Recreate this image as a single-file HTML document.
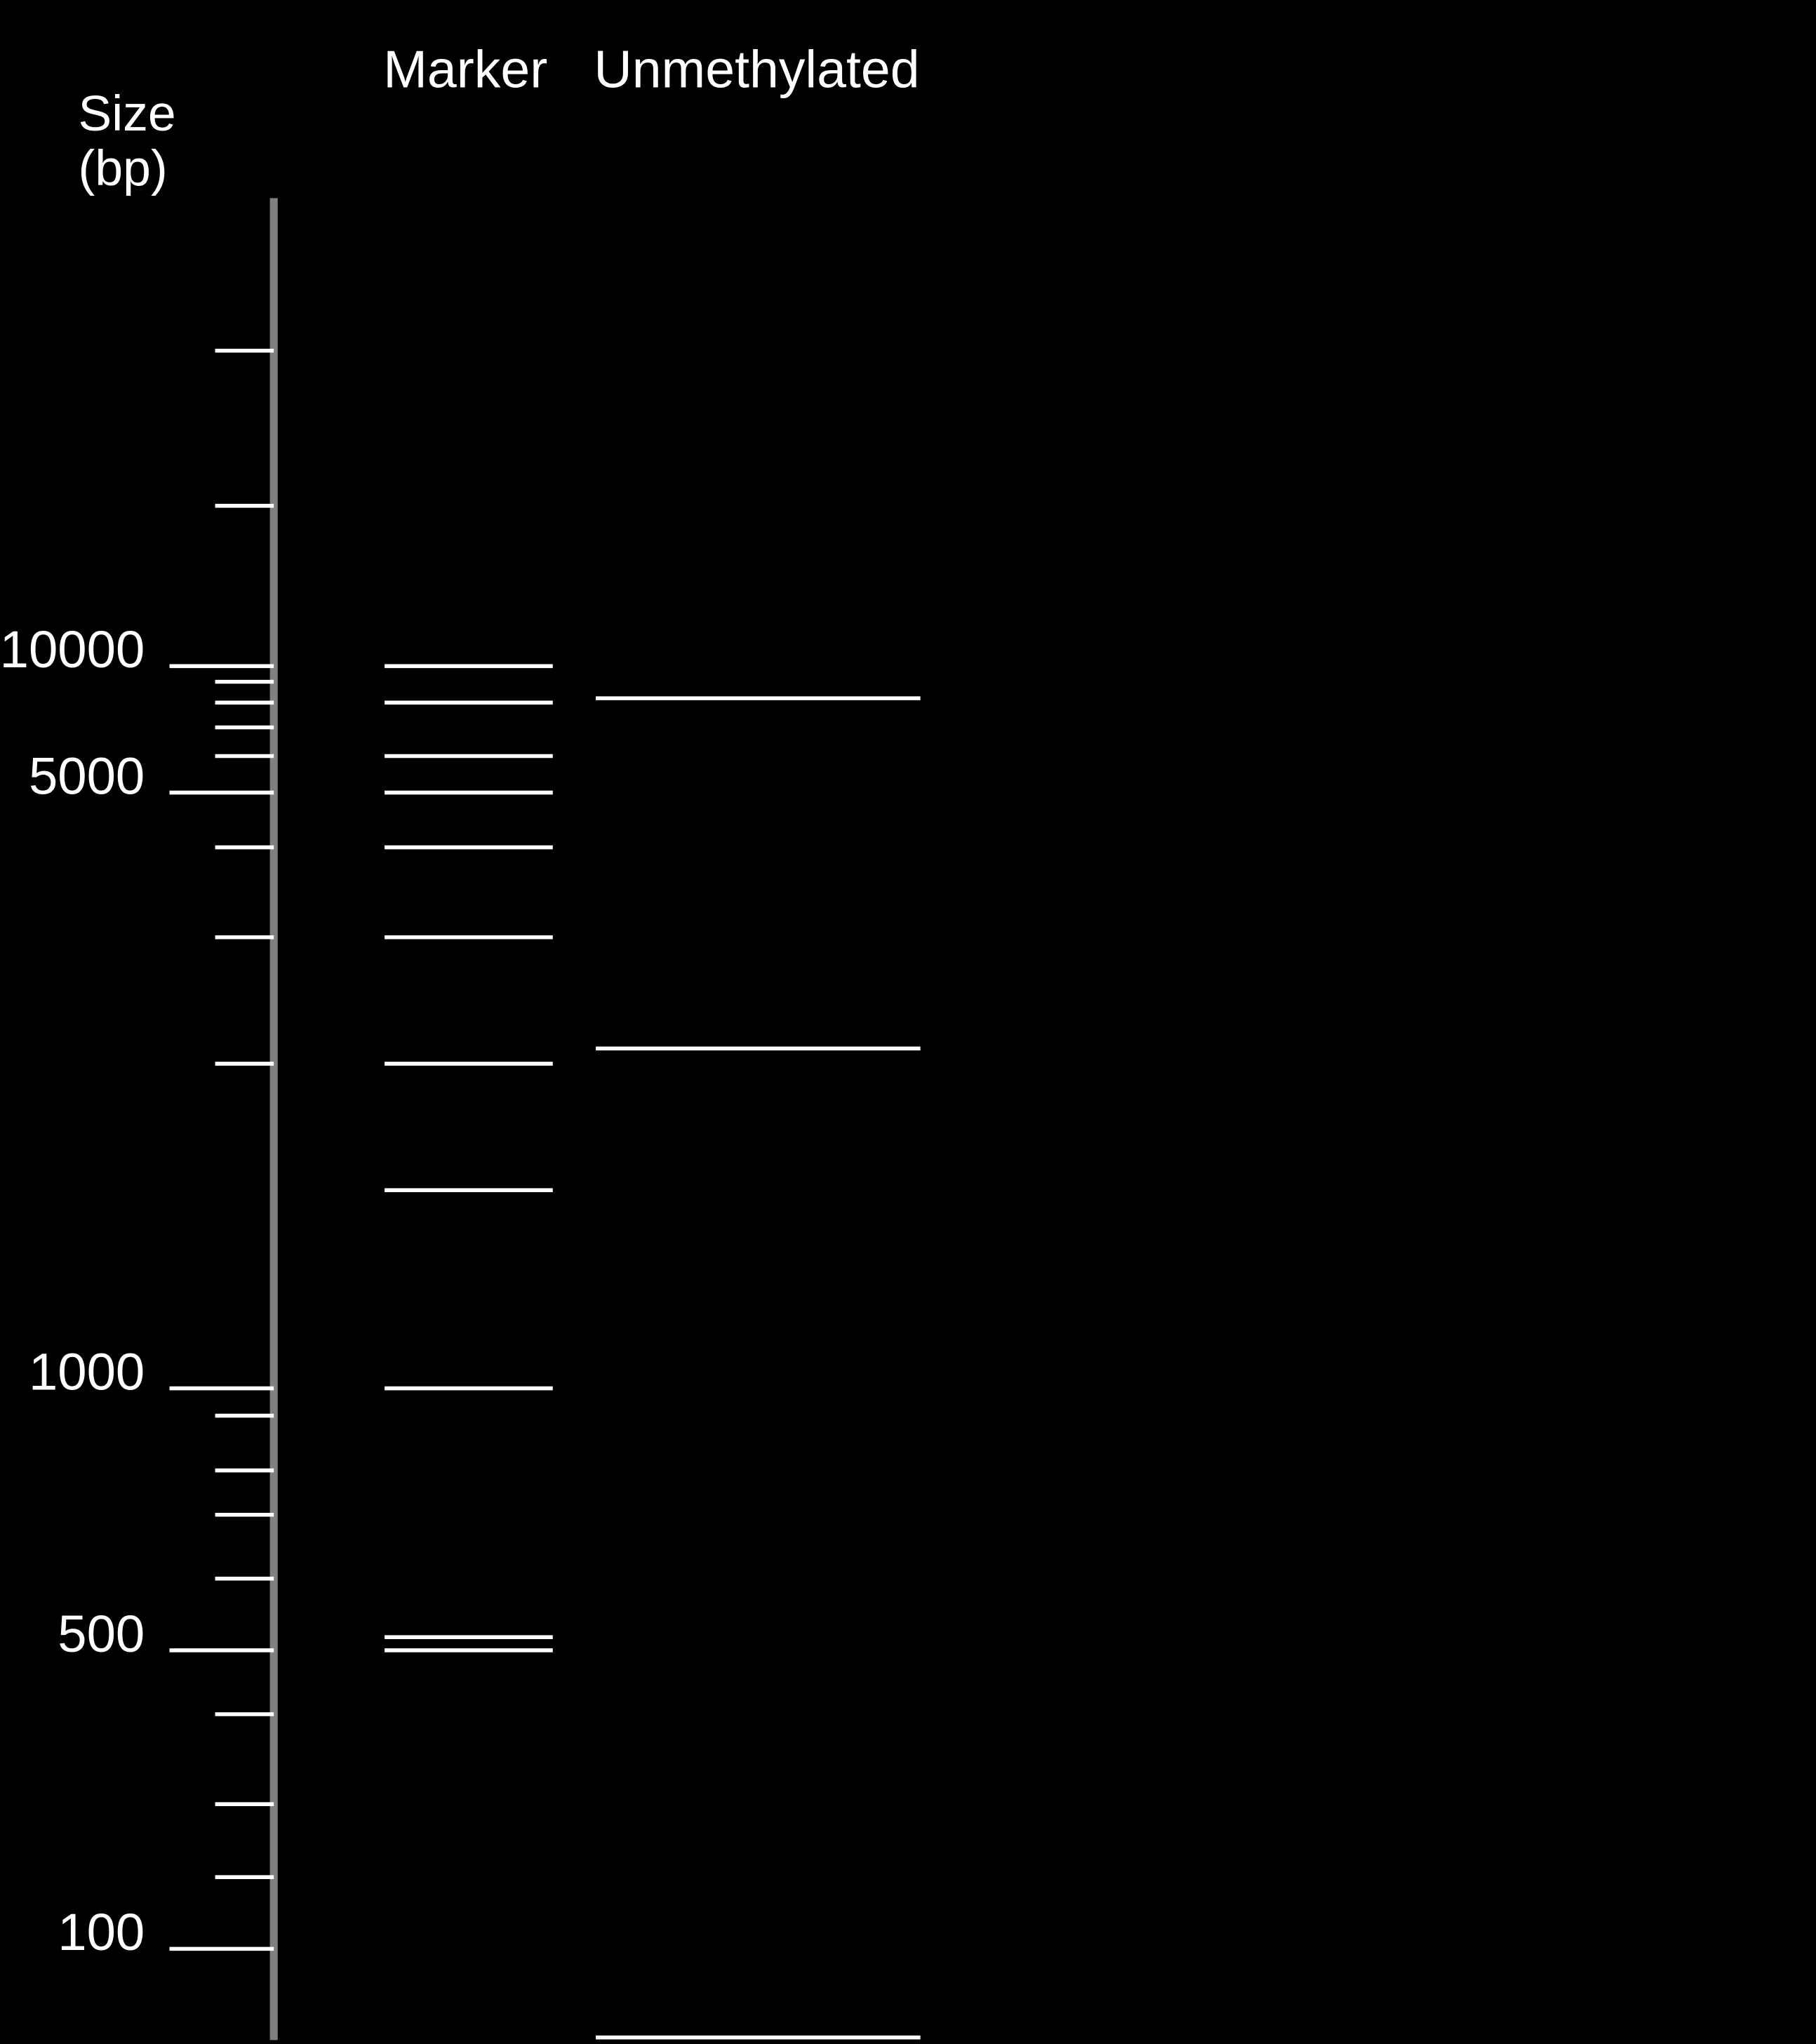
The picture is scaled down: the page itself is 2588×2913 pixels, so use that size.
<!DOCTYPE html>
<html><head><meta charset="utf-8"><style>
html,body{margin:0;padding:0;background:#000;}
svg{display:block;}
text{font-family:"Liberation Sans",sans-serif;fill:#fff;}
</style></head><body>
<svg id="chart" width="2588" height="2913" viewBox="0 0 1393 1568" xmlns="http://www.w3.org/2000/svg">
<rect width="1393" height="1568" fill="#000"/>
<text x="60" y="100" font-size="38.5">Size</text>
<text x="60" y="142" font-size="38.5">(bp)</text>
<text x="357" y="67" font-size="40.5" text-anchor="middle">Marker</text>
<text x="580.5" y="67" font-size="40.5" text-anchor="middle">Unmethylated</text>
<line x1="210" y1="152" x2="210" y2="1565" stroke="#808080" stroke-width="6"/>
<g id="g"></g>
</svg>
<script>
// Piecewise log scale anchors (axis calibration)
const anchorBp = [60,100,200,300,400,500,600,700,800,900,1000,1500,2000,3000,4000,5000,6000,7000,8000,9000,10000,15000,25000];
const anchorY  = [1563,1495,1440,1384,1315,1266,1211,1162,1128,1086,1065,913,816,719,650,608,580,558,539,523,511,388,269];
const majorTicks = [10000,5000,1000,500,100];
const majorLabels = ["10000","5000","1000","500","100"];
const minorTicks = [25000,15000,9000,8000,7000,6000,4000,3000,2000,900,800,700,600,400,300,200];
const markerBands = [10000,8000,6000,5000,4000,3000,2000,1500,1000,517,500];
const unmethylatedBands = [8200,2100,60];

function yScale(bp){
  const l=Math.log10(bp);
  for(let i=0;i<anchorBp.length-1;i++){
    const a=Math.log10(anchorBp[i]), b=Math.log10(anchorBp[i+1]);
    if(l>=a && l<=b){ return anchorY[i]+(l-a)/(b-a)*(anchorY[i+1]-anchorY[i]); }
  }
  return l<Math.log10(anchorBp[0])?anchorY[0]:anchorY[anchorY.length-1];
}
const g=document.getElementById('g');
const NS="http://www.w3.org/2000/svg";
function line(x1,x2,y,w){
  const el=document.createElementNS(NS,'line');
  el.setAttribute('x1',x1);el.setAttribute('x2',x2);
  el.setAttribute('y1',y);el.setAttribute('y2',y);
  el.setAttribute('stroke','#fff');el.setAttribute('stroke-width',w);
  g.appendChild(el);return el;
}
majorTicks.forEach((v,i)=>{
  const y=yScale(v);
  const t=line(130,210,y,3);
  
  
  const tx=document.createElementNS(NS,'text');
  tx.setAttribute('x',111);tx.setAttribute('y',y+1);
  tx.setAttribute('text-anchor','end');tx.setAttribute('font-size','40');
  tx.textContent=majorLabels[i];
  
  
  g.appendChild(tx);
});
minorTicks.forEach(v=>{
  const t=line(165,210,yScale(v),3);
  
  
});
markerBands.forEach(v=>{
  const b=line(295,424,yScale(v),3);
  
  
});
unmethylatedBands.forEach(v=>{
  const b=line(457,706,yScale(v),3);
  
  
});
</script>
</body></html>
